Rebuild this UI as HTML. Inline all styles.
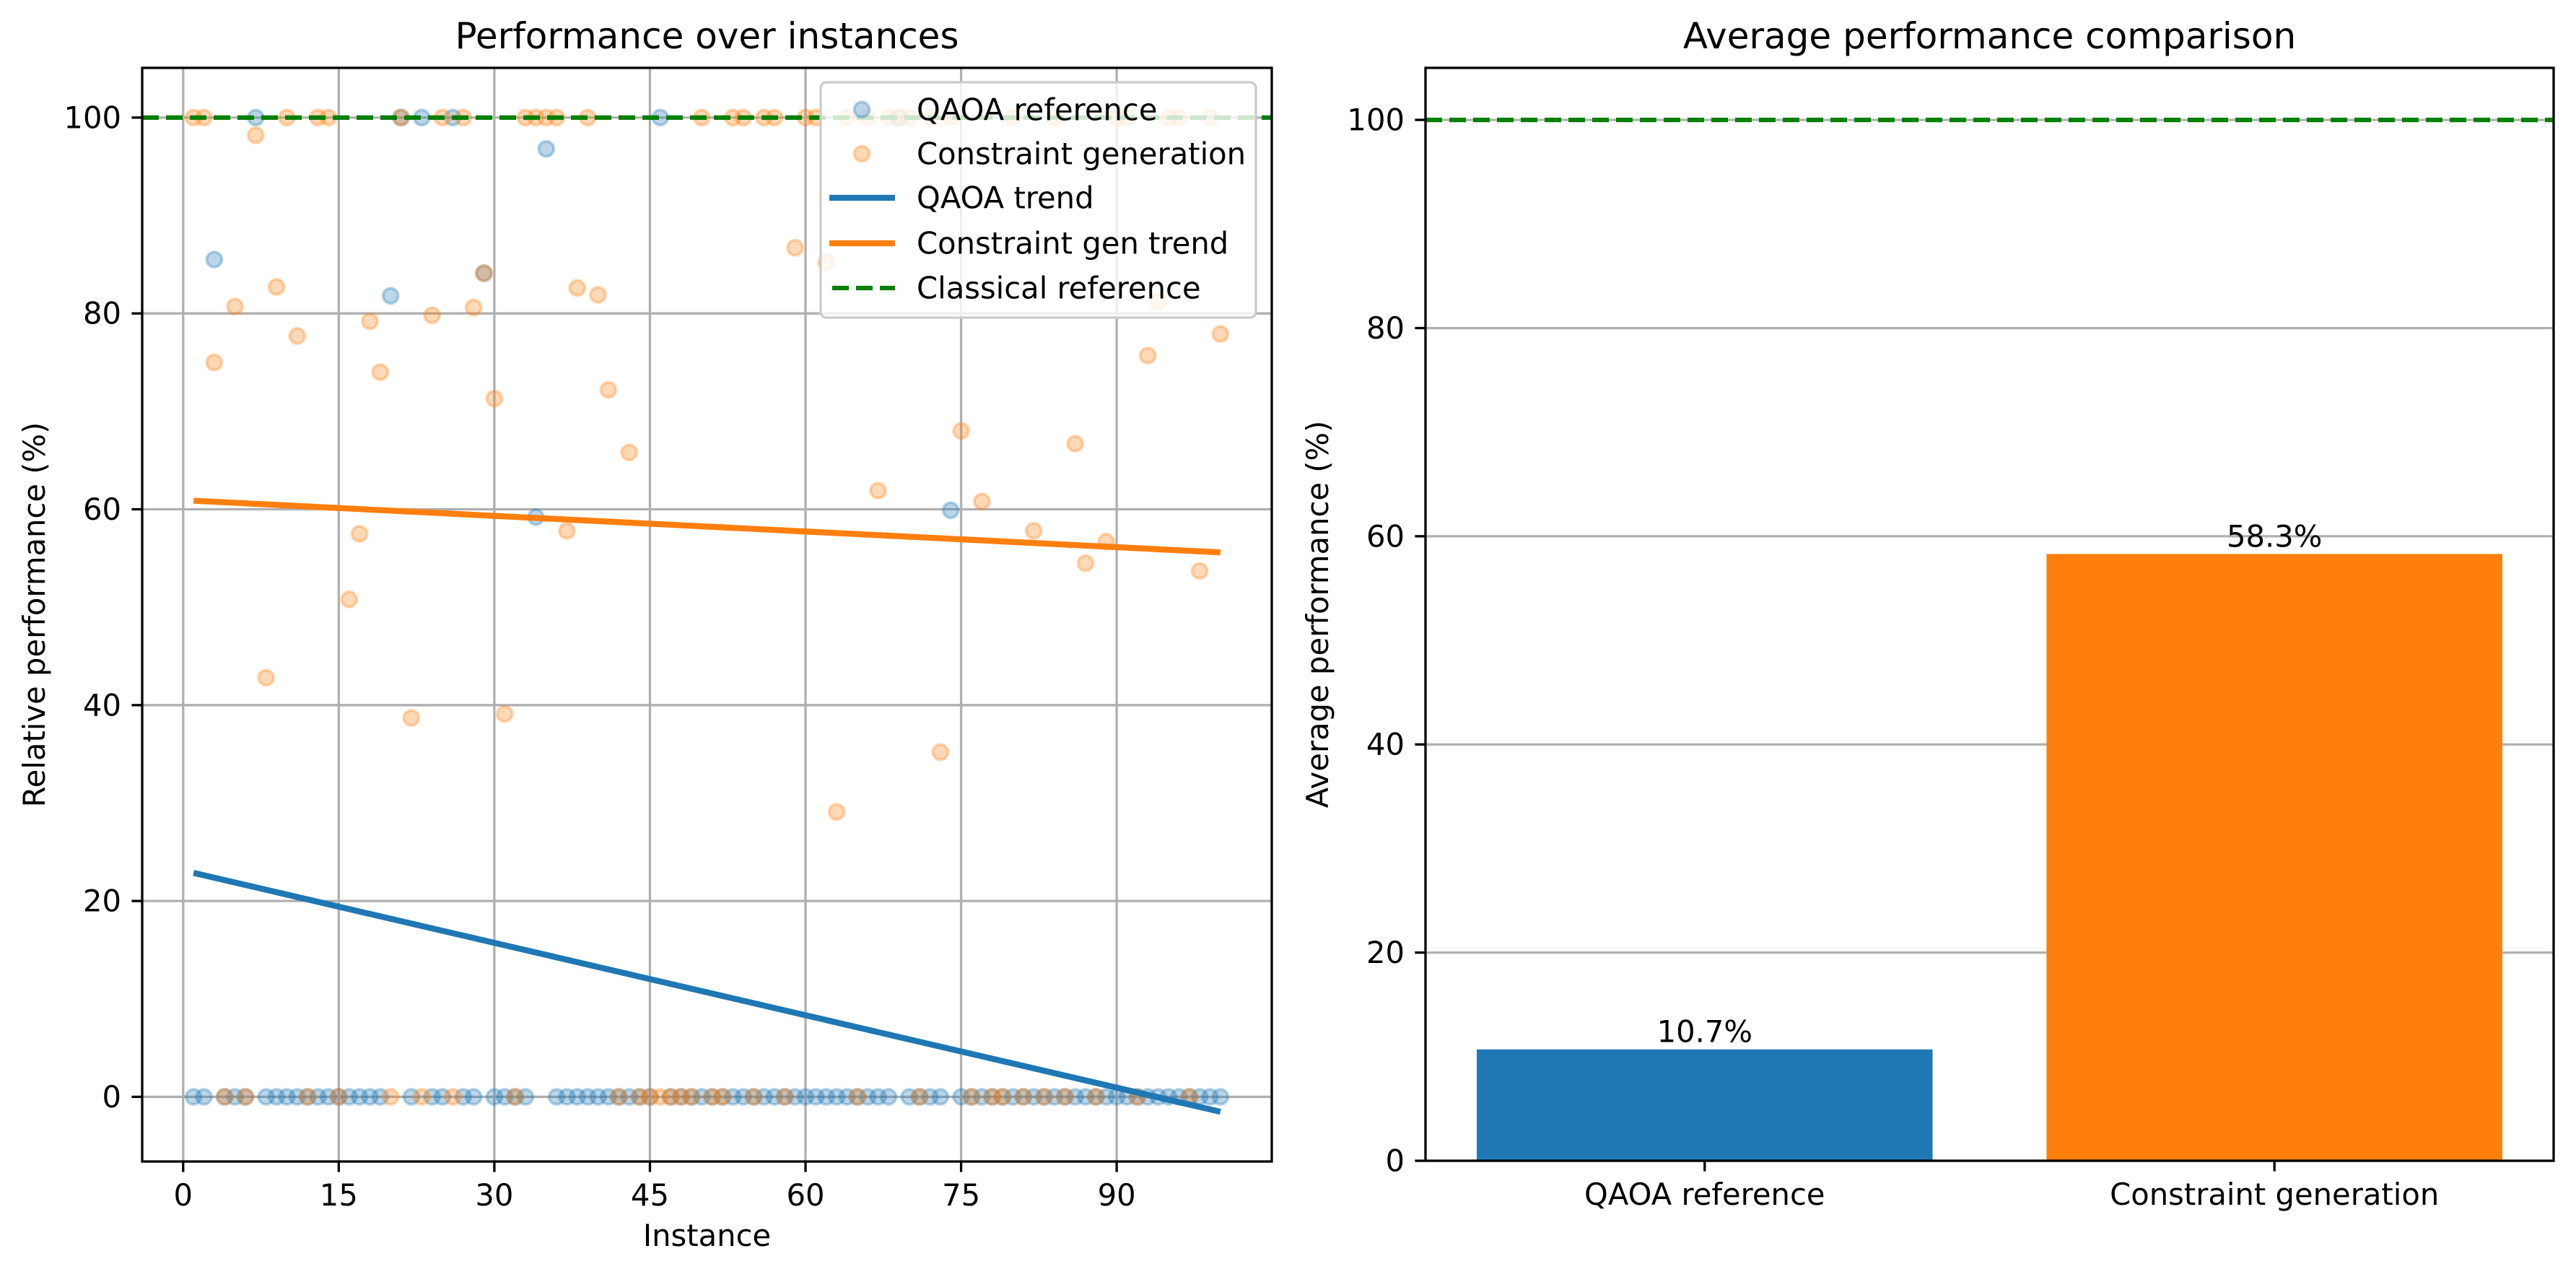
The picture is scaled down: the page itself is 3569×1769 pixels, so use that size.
<!DOCTYPE html>
<html><head><meta charset="utf-8"><style>
html,body{margin:0;padding:0;background:#fff}
svg{display:block}
text{font-family:"DejaVu Sans","Liberation Sans",sans-serif;fill:#000}
</style></head><body>
<svg id="fig" width="3569" height="1769" viewBox="0 0 3569 1769" xmlns="http://www.w3.org/2000/svg">
<rect width="3569" height="1769" fill="#fff"/>
<g id="left"></g>
<g id="right"></g>
</svg>
<script>
const qaoaValues = [0,0,85.5,0,0,0,100,0,0,0, 0,0,0,0,0,0,0,0,0,81.8, 100,0,100,0,0,100,0,0,84.1,0, 0,0,0,59.2,96.8,0,0,0,0,0, 0,0,0,0,0,100,0,0,0,0, 0,0,0,0,0,0,0,0,0,0, 0,0,0,0,0,0,0,0,100,0, 0,0,0,59.9,0,0,0,0,0,0, 0,0,0,0,0,0,0,0,0,0, 0,0,0,0,0,0,0,0,0,0];
const constraintValues = [100,100,75.0,0,80.7,0,98.2,42.8,82.7,100, 77.7,0,100,100,0,50.8,57.5,79.2,74.0,0, 100,38.7,0,79.8,100,0,100,80.6,84.1,71.3, 39.1,0,100,100,100,100,57.8,82.6,100,81.9, 72.2,0,65.8,0,0,0,0,0,0,100, 0,0,100,100,0,100,100,0,86.7,100, 100,85.2,29.1,100,0,100,61.9,100,100,100, 0,100,35.2,100,68.0,0,60.8,0,0,100, 0,57.8,0,100,0,66.7,54.5,0,56.7,100, 100,0,75.7,81.2,100,100,0,53.7,100,77.9];
const xTicks = [0,15,30,45,60,75,90];
const yTicks = [0,20,40,60,80,100];
const barCategories = ["QAOA reference","Constraint generation"];
const barAverages = [10.7, 58.3];
const classicalReference = [100];

const NS="http://www.w3.org/2000/svg";
function el(parent,tag,attrs,txt){const e=document.createElementNS(NS,tag);for(const k in attrs)e.setAttribute(k,attrs[k]);if(txt!==undefined)e.textContent=txt;parent.appendChild(e);return e;}
const BLUE="#1f77b4",ORANGE="#ff7f0e",GRID="#b0b0b0";

// ---------- Left chart ----------
const L=document.getElementById('left');
const lx0=197,lx1=1762,ly0=94,ly1=1609;
const n=qaoaValues.length;
const instances=[];for(let i=1;i<=n;i++)instances.push(i);
const allY=qaoaValues.concat(constraintValues);
function fit(ys){const m=ys.length;let sx=0,sy=0,sxx=0,sxy=0;for(let i=0;i<m;i++){const x=instances[i];sx+=x;sy+=ys[i];sxx+=x*x;sxy+=x*ys[i];}const b=(m*sxy-sx*sy)/(m*sxx-sx*sx);return {b:b,a:(sy-b*sx)/m};}
const fq=fit(qaoaValues),fc=fit(constraintValues);
const trendQ=[fq.a+fq.b*instances[0],fq.a+fq.b*instances[n-1]];
const trendC=[fc.a+fc.b*instances[0],fc.a+fc.b*instances[n-1]];
let dmin=Math.min(...allY,...trendQ,...trendC),dmax=Math.max(...allY,...trendQ,...trendC,100);
const yr=dmax-dmin,yMin=dmin-0.05*yr,yMax=dmax+0.05*yr;
const xr=instances[n-1]-instances[0],xMin=instances[0]-0.05*xr,xMax=instances[n-1]+0.05*xr;
const sxL=v=>lx0+(v-xMin)/(xMax-xMin)*(lx1-lx0);
const syL=v=>ly1-(v-yMin)/(yMax-yMin)*(ly1-ly0);

xTicks.forEach(t=>{const x=sxL(t);
 const g=el(L,'line',{x1:x,x2:x,y1:ly0,y2:ly1,stroke:GRID,'stroke-width':3.3});
 
 el(L,'line',{x1:x,x2:x,y1:ly1,y2:ly1+14.6,stroke:'#000','stroke-width':3.3});
 const tl=el(L,'text',{x:x,y:ly1+30,'font-size':41.7,'text-anchor':'middle','dominant-baseline':'hanging'},String(t));
 
});
yTicks.forEach(t=>{const y=syL(t);
 const g=el(L,'line',{x1:lx0,x2:lx1,y1:y,y2:y,stroke:GRID,'stroke-width':3.3});
 
 el(L,'line',{x1:lx0-14.6,x2:lx0,y1:y,y2:y,stroke:'#000','stroke-width':3.3});
 const tl=el(L,'text',{x:lx0-29,y:y,'font-size':41.7,'text-anchor':'end','dominant-baseline':'central'},String(t));
 
});
const clipL=el(L,'clipPath',{id:'clipL'});el(clipL,'rect',{x:lx0,y:ly0,width:lx1-lx0,height:ly1-ly0});
const plotL=el(L,'g',{'clip-path':'url(#clipL)'});
function dot(x,y,c){const d=el(plotL,'circle',{cx:x,cy:y,r:10.5,fill:c,'fill-opacity':0.3,stroke:c,'stroke-opacity':0.3,'stroke-width':4});return d;}
instances.forEach((v,i)=>{const d=dot(sxL(v),syL(qaoaValues[i]),BLUE);
 });
instances.forEach((v,i)=>{const d=dot(sxL(v),syL(constraintValues[i]),ORANGE);
 });
const tq=el(plotL,'line',{x1:sxL(instances[0]),y1:syL(trendQ[0]),x2:sxL(instances[n-1]),y2:syL(trendQ[1]),stroke:BLUE,'stroke-width':8.3});

const tc=el(plotL,'line',{x1:sxL(instances[0]),y1:syL(trendC[0]),x2:sxL(instances[n-1]),y2:syL(trendC[1]),stroke:ORANGE,'stroke-width':8.3});

const crL=el(plotL,'line',{x1:lx0,x2:lx1,y1:syL(classicalReference[0]),y2:syL(classicalReference[0]),stroke:'#008000','stroke-width':6.25,'stroke-dasharray':'23 10'});

el(L,'rect',{x:lx0,y:ly0,width:lx1-lx0,height:ly1-ly0,fill:'none',stroke:'#000','stroke-width':3.3});
const lg=el(L,'g',{});

el(lg,'rect',{x:1137,y:114,width:603,height:326,rx:8,fill:'#fff','fill-opacity':0.8,stroke:'#cccccc','stroke-width':3.3});
const rows=[151.8,213,274,337,399];
const labels=["QAOA reference","Constraint generation","QAOA trend","Constraint gen trend","Classical reference"];
labels.forEach((t,i)=>{const y=rows[i];
 const e=el(lg,'g',{});
 if(i<2){const c=i==0?BLUE:ORANGE;el(e,'circle',{cx:1194,cy:y,r:10.5,fill:c,'fill-opacity':0.3,stroke:c,'stroke-opacity':0.3,'stroke-width':4});}
 else if(i<4){el(e,'line',{x1:1149,x2:1240,y1:y,y2:y,stroke:i==2?BLUE:ORANGE,'stroke-width':8.3});}
 else{el(e,'line',{x1:1153,x2:1240,y1:y,y2:y,stroke:'#008000','stroke-width':6.25,'stroke-dasharray':'23 10'});}
 el(e,'text',{x:1270,y:y,'font-size':41.7,'dominant-baseline':'central'},t);
});
const t1=el(L,'text',{x:(lx0+lx1)/2,y:67,'font-size':50,'text-anchor':'middle'},"Performance over instances");

const xl=el(L,'text',{x:(lx0+lx1)/2,y:1726,'font-size':41.7,'text-anchor':'middle'},"Instance");

const yl=el(L,'text',{x:0,y:0,'font-size':41.7,'text-anchor':'middle',transform:`translate(62,${(ly0+ly1)/2}) rotate(-90)`},"Relative performance (%)");


// ---------- Right chart ----------
const R=document.getElementById('right');
const rx0=1975,rx1=3538,ry0=94,ry1=1608;
const rYMax=Math.max(...barAverages,...classicalReference)*1.05;
const syR=v=>ry1-v/rYMax*(ry1-ry0);
const nb=barCategories.length;
const bxMin=-0.4-0.09,bxMax=nb-1+0.4+0.09;
const sxR=v=>rx0+(v-bxMin)/(bxMax-bxMin)*(rx1-rx0);
yTicks.forEach(t=>{const y=syR(t);
 const g=el(R,'line',{x1:rx0,x2:rx1,y1:y,y2:y,stroke:GRID,'stroke-width':3.3});
 
 el(R,'line',{x1:rx0-14.6,x2:rx0,y1:y,y2:y,stroke:'#000','stroke-width':3.3});
 const tl=el(R,'text',{x:rx0-29,y:y,'font-size':41.7,'text-anchor':'end','dominant-baseline':'central'},String(t));
 
});
const colors=[BLUE,ORANGE];
barAverages.forEach((v,i)=>{
 const xl0=sxR(i-0.4),xl1=sxR(i+0.4);
 const b=el(R,'rect',{x:xl0,y:syR(v),width:xl1-xl0,height:syR(0)-syR(v),fill:colors[i%2]});
 
 const lb=el(R,'text',{x:sxR(i),y:syR(v)-10,'font-size':41.7,'text-anchor':'middle'},v.toFixed(1)+'%');
 
 el(R,'line',{x1:sxR(i),x2:sxR(i),y1:ry1,y2:ry1+14.6,stroke:'#000','stroke-width':3.3});
 const cl=el(R,'text',{x:sxR(i),y:ry1+30,'font-size':41.7,'text-anchor':'middle','dominant-baseline':'hanging'},barCategories[i]);
 
});
const crR=el(R,'line',{x1:rx0,x2:rx1,y1:syR(classicalReference[0]),y2:syR(classicalReference[0]),stroke:'#008000','stroke-width':6.25,'stroke-dasharray':'23 10'});

el(R,'rect',{x:rx0,y:ry0,width:rx1-rx0,height:ry1-ry0,fill:'none',stroke:'#000','stroke-width':3.3});
const t2=el(R,'text',{x:(rx0+rx1)/2,y:67,'font-size':50,'text-anchor':'middle'},"Average performance comparison");

const yl2=el(R,'text',{x:0,y:0,'font-size':41.7,'text-anchor':'middle',transform:`translate(1840,${(ry0+ry1)/2}) rotate(-90)`},"Average performance (%)");

</script>
</body></html>
